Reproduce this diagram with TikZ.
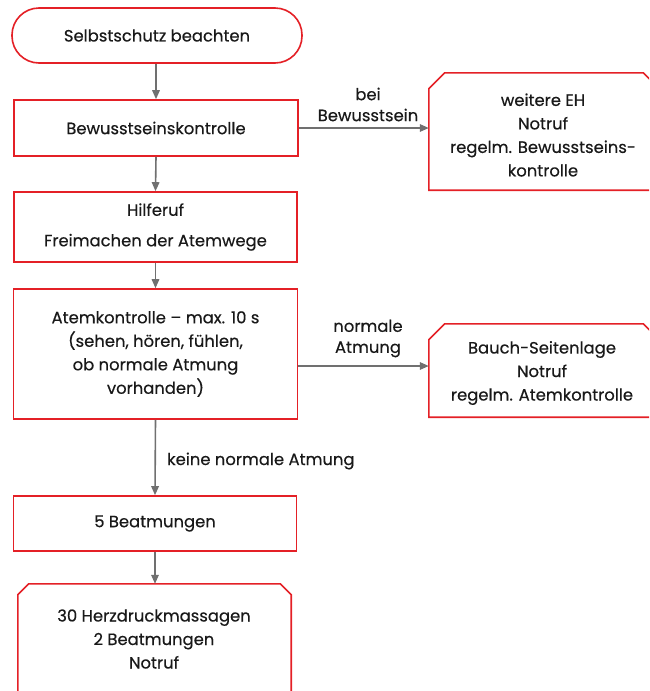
\documentclass[tikz,border=0pt]{standalone}
\usepackage{fontspec}
\setmainfont{Poppins}[FakeBold=0.4]
\usetikzlibrary{arrows.meta}
\definecolor{boxred}{RGB}{228,32,38}
\definecolor{arrgray}{RGB}{112,112,112}
\definecolor{txt}{RGB}{25,25,25}
\tikzset{
  redline/.style={draw=boxred, line width=1.6pt, line join=miter},
  box/.style={redline, fill=white, inner sep=0pt, text=txt, align=center, font=\fontsize{16.4}{23.5}\selectfont},
  frame/.style={inner sep=0pt, rectangle},
  plain/.style={text=txt, align=center, inner sep=0pt, font=\fontsize{16.4}{23.5}\selectfont},
  lab/.style={text=txt, align=center, inner sep=0pt, font=\fontsize{16.4}{21}\selectfont},
  arr/.style={draw=arrgray, line width=1.6pt, -{Triangle[length=9pt,width=7.5pt]}},
}
\begin{document}
\begin{tikzpicture}[x=1pt,y=-1pt]
\useasboundingbox (0,0) rectangle (649,691);
\clip (0,0) rectangle (649,691);
% main column
\node[box, rounded corners=27pt, minimum width=290pt, minimum height=55pt] (start) at (157,35.5) {Selbstschutz beachten};
\node[box, minimum width=284pt, minimum height=56pt] (b1) at (156,128) {Bewusstseinskontrolle};
\node[box, minimum width=283pt, minimum height=70pt] (b2) at (155.5,227) {Hilferuf\\[7pt]Freimachen der Atemwege};
\node[box, minimum width=284pt, minimum height=130pt] (b3) at (155.5,354) {Atemkontrolle – max. 10 s\\(sehen, hören, fühlen,\\ob normale Atmung\\vorhanden)};
\node[box, minimum width=283pt, minimum height=55pt] (b4) at (155,523.5) {5 Beatmungen};
% chamfered boxes
\node[frame, minimum width=273pt, minimum height=116pt] (b5) at (154.5,642) {};
\node[frame, minimum width=230pt, minimum height=117pt] (r1) at (544,131.5) {};
\node[frame, minimum width=230pt, minimum height=93pt] (r2) at (544,370.5) {};
\foreach \n/\c in {b5/11pt, r1/16pt, r2/16pt}{
  \draw[redline, fill=white] (\n.south west) -- ([yshift=-\c]\n.north west) -- ([xshift=\c]\n.north west)
    -- ([xshift=-\c]\n.north east) -- ([yshift=-\c]\n.north east) -- (\n.south east) -- cycle;
}
\node[plain] (b5t) at (154,639) {30 Herzdruckmassagen\\2 Beatmungen\\Notruf};
\node[plain] (r1t) at (543,135) {weitere EH\\Notruf\\regelm. Bewusstseins-\\kontrolle};
\node[plain] (r2t) at (542,373) {Bauch-Seitenlage\\Notruf\\regelm. Atemkontrolle};
% connectors
\draw[arr] (start.south -| b1.north) -- (b1.north);
\draw[arr] (b1.south) -- (b2.north);
\draw[arr] (b2.south) -- (b3.north);
\draw[arr] (b3.south) -- (b4.north);
\node[lab, anchor=west] (l3) at (167,461) {keine normale Atmung};
\draw[arr] (b4.south) -- (b4.south |- b5.north);
\draw[arr] (b1.east) -- (b1.east -| r1.west);
\node[lab] (l1) at (368,104.5) {bei\\Bewusstsein};
\coordinate (b3e) at (b3.east |- 0,366);
\draw[arr] (b3e) -- (b3e -| r2.west);
\node[lab] (l2) at (368,338.5) {normale\\Atmung};
\end{tikzpicture}
\end{document}
